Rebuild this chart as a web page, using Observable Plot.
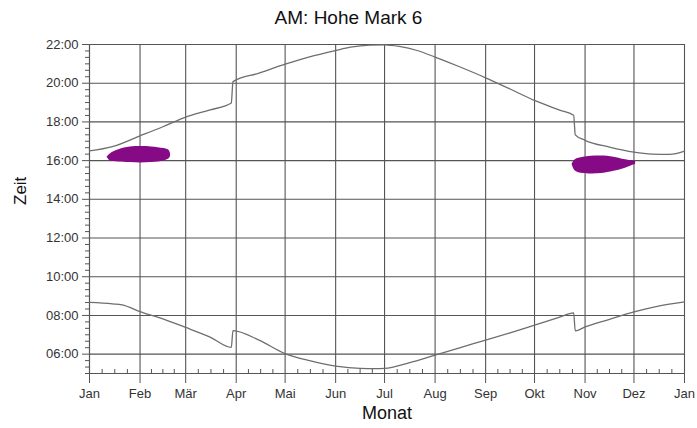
<!DOCTYPE html>
<html><head><meta charset="utf-8">
<script src="https://cdn.jsdelivr.net/npm/d3@7"></script>
<script src="https://cdn.jsdelivr.net/npm/@observablehq/plot@0.6"></script>
<style>
body{margin:0;background:#fff;font-family:"Liberation Sans",Arial,sans-serif;}
#title{height:30px;width:697px;text-align:center;font-size:19px;line-height:36px;color:#111;overflow:visible;}
</style></head><body>
<div id="title">AM: Hohe Mark 6</div>
<div id="chart"></div>
<script>
// x = day of year, y = hour of day
const monthDays = [0,31,59,90,120,151,181,212,243,273,304,334,365];
const monthLabels = ["Jan","Feb","Mär","Apr","Mai","Jun","Jul","Aug","Sep","Okt","Nov","Dez","Jan"];
const hourTicks = [6,8,10,12,14,16,18,20,22];

// Sunset (Sonnenuntergang)
const sunsetDays  = [0,14,31,45,59,74,87,88,104,120,135,151,160,172,181,190,201,212,227,243,258,273,288,297,298,304,319,334,345,356,365];
const sunsetHours = [16.5,16.72,17.28,17.75,18.25,18.62,18.98,20.08,20.52,20.98,21.36,21.69,21.86,21.97,21.98,21.9,21.69,21.35,20.85,20.28,19.7,19.11,18.62,18.34,17.33,17.05,16.7,16.44,16.34,16.32,16.49];

// Sunrise (Sonnenaufgang)
const sunriseDays  = [0,14,20,31,45,59,74,87,88,104,120,135,151,166,175,181,196,212,227,243,258,273,288,297,298,304,319,334,349,365];
const sunriseHours = [8.67,8.6,8.55,8.2,7.82,7.38,6.88,6.35,7.22,6.72,6.03,5.66,5.38,5.26,5.25,5.26,5.55,5.95,6.33,6.72,7.1,7.5,7.9,8.13,7.2,7.41,7.8,8.18,8.48,8.7];

// Shadow periods (Schattenwurf)
const febDays = [10.8,12.9,18,25,31.3,38,45.6,48.7,49.7];
const febLow  = [16.18,15.98,15.93,15.9,15.88,15.9,15.98,16.08,16.21];
const febHigh = [16.18,16.36,16.56,16.7,16.73,16.71,16.62,16.53,16.36];
const novDays = [296,298,303,313.5,321.7,327.8,335];
const novLow  = [15.81,15.46,15.33,15.33,15.45,15.58,15.81];
const novHigh = [15.81,16.05,16.18,16.24,16.18,16.06,15.96];

const sunset = sunsetDays.map((d,i)=>({day:d, h:sunsetHours[i]}));
const sunrise = sunriseDays.map((d,i)=>({day:d, h:sunriseHours[i]}));
const feb = febDays.map((d,i)=>({day:d, lo:febLow[i], hi:febHigh[i]}));
const nov = novDays.map((d,i)=>({day:d, lo:novLow[i], hi:novHigh[i]}));

const minorDays = [];
for (let i=0;i<monthDays.length-1;i++){
  const a=monthDays[i], b=monthDays[i+1];
  for (let k=1;k<4;k++) minorDays.push(a+(b-a)*k/4);
}
const minorHours = d3.range(5, 22.001, 1/3).filter(h => Math.abs(h-Math.round(h))>0.01 || Math.round(h)%2===1);

const gridColor = "#555";
const lineColor = "#6e6e6e";
const blobColor = "#860a86";

const chart = Plot.plot({
  width: 697,
  height: 398,
  marginTop: 14,
  marginBottom: 55,
  marginLeft: 89,
  marginRight: 13,
  style: {fontFamily: '"Liberation Sans", Arial, sans-serif', fontSize: "13px", color: "#333", background: "#fff"},
  x: {type: "linear", domain: [0, 365]},
  y: {type: "linear", domain: [5, 22]},
  marks: [
    Plot.gridY(hourTicks, {stroke: gridColor, strokeOpacity: 1, strokeWidth: 1.1}),
    Plot.gridX(monthDays, {stroke: gridColor, strokeOpacity: 1, strokeWidth: 1.1}),
    Plot.ruleX([0], {stroke: gridColor, strokeWidth: 1.1}),
    Plot.ruleY([5], {stroke: gridColor, strokeWidth: 1.1}),
    Plot.areaY(feb, {x: "day", y1: "lo", y2: "hi", fill: blobColor, curve: "catmull-rom"}),
    Plot.areaY(nov, {x: "day", y1: "lo", y2: "hi", fill: blobColor, curve: "catmull-rom"}),
    Plot.line(sunset, {x: "day", y: "h", stroke: lineColor, strokeWidth: 1.3, curve: "monotone-x"}),
    Plot.line(sunrise, {x: "day", y: "h", stroke: lineColor, strokeWidth: 1.3, curve: "monotone-x"}),
    Plot.axisY(hourTicks, {tickFormat: h => String(h).padStart(2,"0") + ":00", tickSize: 7, tickPadding: 4, label: null, stroke: gridColor}),
    Plot.axisY(minorHours, {tickFormat: () => "", tickSize: 4, label: null, stroke: gridColor}),
    Plot.axisX(monthDays, {tickFormat: (d, i) => monthLabels[i], tickSize: 10, tickPadding: 5, label: null, stroke: gridColor}),
    Plot.axisX(minorDays, {tickFormat: () => "", tickSize: -4, label: null, stroke: gridColor}),
    Plot.text(["Monat"], {frameAnchor: "bottom", dy: 45, fontSize: 18, fill: "#111"}),
    Plot.text(["Zeit"], {frameAnchor: "left", dx: -69, dy: -4, rotate: -90, fontSize: 17, fill: "#111"})
  ]
});
document.getElementById("chart").appendChild(chart);
</script>
</body></html>
